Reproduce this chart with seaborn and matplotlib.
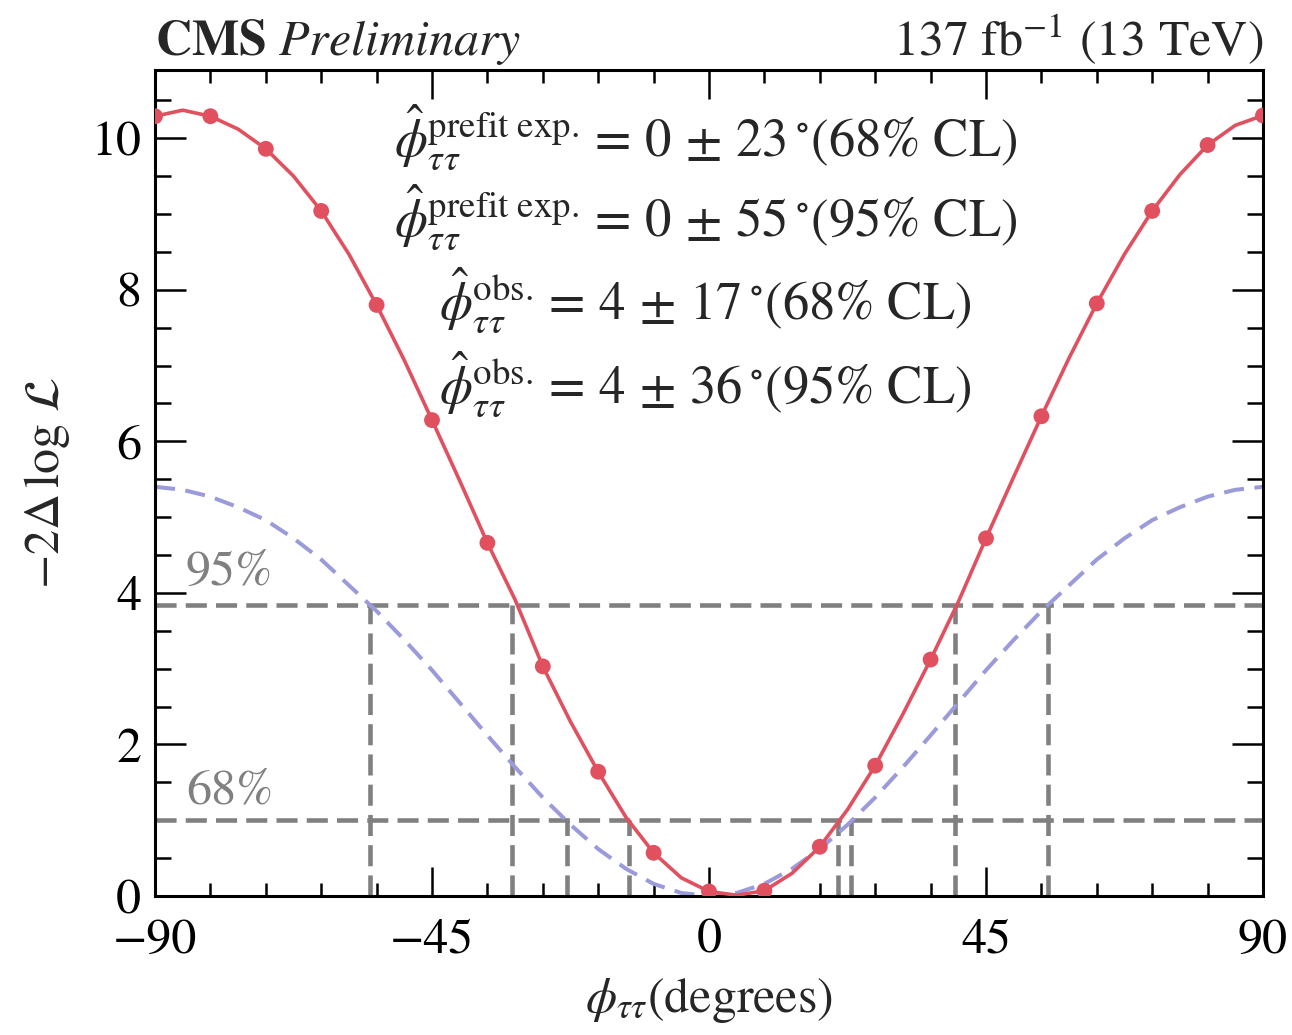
import numpy as np
import pandas as pd
import matplotlib
matplotlib.use("Agg")
import matplotlib.pyplot as plt
from matplotlib.ticker import MultipleLocator
import seaborn as sns

# Observed scan points (degrees, -2 Delta log L)
obs_phi = [-90, -81, -72, -63, -54, -45, -36, -27, -18, -9, 0,
           9, 18, 27, 36, 45, 54, 63, 72, 81, 90]
obs_nll = [10.29, 10.29, 9.86, 9.04, 7.80, 6.28, 4.66, 3.03, 1.64, 0.57, 0.06,
           0.07, 0.65, 1.72, 3.12, 4.72, 6.33, 7.82, 9.04, 9.91, 10.30]

# Observed curve, sampled every 4.5 degrees
curve_phi = [-90, -85.5, -81, -76.5, -72, -67.5, -63, -58.5, -54, -49.5, -45,
             -40.5, -36, -31.5, -27, -22.5, -18, -13.5, -9, -4.5, 0,
             4.5, 9, 13.5, 18, 22.5, 27, 31.5, 36, 40.5, 45,
             49.5, 54, 58.5, 63, 67.5, 72, 76.5, 81, 85.5, 90]
curve_nll = [10.29, 10.37, 10.29, 10.12, 9.86, 9.50, 9.04, 8.47, 7.80, 7.07, 6.28,
             5.48, 4.66, 3.91, 3.03, 2.30, 1.64, 1.04, 0.57, 0.24, 0.06,
             0.01, 0.07, 0.30, 0.65, 1.14, 1.72, 2.40, 3.12, 3.88, 4.72,
             5.53, 6.33, 7.10, 7.82, 8.47, 9.04, 9.52, 9.91, 10.17, 10.30]

# Prefit expected curve
exp_phi = [-90, -85.5, -81, -76.5, -72, -67.5, -63, -58.5, -54, -49.5, -45,
           -40.5, -36, -31.5, -27, -22.5, -18, -13.5, -9, -4.5, 0,
           4.5, 9, 13.5, 18, 22.5, 27, 31.5, 36, 40.5, 45,
           49.5, 54, 58.5, 63, 67.5, 72, 76.5, 81, 85.5, 90]
exp_nll = [5.40, 5.36, 5.27, 5.13, 4.96, 4.72, 4.44, 4.10, 3.76, 3.38, 2.98,
           2.55, 2.12, 1.70, 1.30, 0.94, 0.62, 0.36, 0.16, 0.04, 0.00,
           0.04, 0.16, 0.36, 0.62, 0.94, 1.30, 1.70, 2.12, 2.55, 2.98,
           3.38, 3.76, 4.10, 4.44, 4.72, 4.96, 5.13, 5.27, 5.36, 5.40]

# Confidence-level thresholds and interval edges
cl_levels = [1.0, 3.84]
cl_labels = ["68%", "95%"]
edges_68 = [-23, -13, 21, 23]
edges_95 = [-55, -32, 40, 55]

results = [
    r"$\hat{\phi}^{\mathrm{prefit\ exp.}}_{\tau\tau} = \,0\,\pm\,23\,^{\circ}(68\%\ \mathrm{CL})$",
    r"$\hat{\phi}^{\mathrm{prefit\ exp.}}_{\tau\tau} = \,0\,\pm\,55\,^{\circ}(95\%\ \mathrm{CL})$",
    r"$\hat{\phi}^{\mathrm{obs.}}_{\tau\tau} = \,4\,\pm\,17\,^{\circ}(68\%\ \mathrm{CL})$",
    r"$\hat{\phi}^{\mathrm{obs.}}_{\tau\tau} = \,4\,\pm\,36\,^{\circ}(95\%\ \mathrm{CL})$",
]
result_y = [9.76, 8.70, 7.60, 6.50]

sns.set_theme(style="ticks")
plt.rcParams["font.family"] = ["STIXGeneral", "DejaVu Serif"]
plt.rcParams["mathtext.fontset"] = "stix"
plt.rcParams["axes.unicode_minus"] = True

RED = "#e0505f"
BLUE = "#9b9bdc"
GREY = "#808080"
FS = 36

fig = plt.figure(figsize=(12.92, 10.35), dpi=100)
ax = fig.add_axes([155 / 1292, 139 / 1035, 1108 / 1292, 826 / 1035])

# threshold lines
GLW = 3.3
GDASH = (4.6, 2.0)
for lvl in cl_levels:
    ax.axhline(lvl, color=GREY, lw=GLW, dashes=GDASH, zorder=1)
for e in edges_68:
    ax.plot([e, e], [0, cl_levels[0]], color=GREY, lw=GLW, dashes=GDASH, zorder=1)
for e in edges_95:
    ax.plot([e, e], [0, cl_levels[1]], color=GREY, lw=GLW, dashes=GDASH, zorder=1)

exp_df = pd.DataFrame({"phi": exp_phi, "nll": exp_nll})
sns.lineplot(data=exp_df, x="phi", y="nll", ax=ax, color=BLUE, lw=2.9,
             dashes=False, zorder=2)
ax.lines[-1].set_dashes((5.0, 2.6))

curve_df = pd.DataFrame({"phi": curve_phi, "nll": curve_nll})
sns.lineplot(data=curve_df, x="phi", y="nll", ax=ax, color=RED, lw=2.6, zorder=3)

pts_df = pd.DataFrame({"phi": obs_phi, "nll": obs_nll})
sns.scatterplot(data=pts_df, x="phi", y="nll", ax=ax, color=RED, s=130,
                edgecolor="none", zorder=4, clip_on=True)

ax.set_xlim(-90, 90)
ax.set_ylim(0, 10.9)
ax.xaxis.set_major_locator(MultipleLocator(45))
ax.xaxis.set_minor_locator(MultipleLocator(9))
ax.yaxis.set_major_locator(MultipleLocator(2))
ax.yaxis.set_minor_locator(MultipleLocator(0.5))
ax.tick_params(which="both", direction="in", top=True, right=True, width=1.8,
               labelsize=FS, colors="black")
ax.tick_params(axis="x", which="major", length=21, pad=16)
ax.tick_params(axis="x", which="minor", length=9.5)
ax.tick_params(axis="y", which="major", length=22, pad=10)
ax.tick_params(axis="y", which="minor", length=11.5)
for sp in ax.spines.values():
    sp.set_linewidth(2.2)
    sp.set_color("black")

ax.set_xlabel(r"$\phi_{\tau\tau}(\mathrm{degrees})$", fontsize=FS, labelpad=9)
ax.set_ylabel(r"$-2\Delta\,\log\,\mathcal{L}$", fontsize=FS, labelpad=14)

for txt, yv in zip(results, result_y):
    ax.text(0.497, yv, txt, transform=ax.get_yaxis_transform(), ha="center",
            va="baseline", fontsize=38)

for lvl, lab in zip(cl_levels, cl_labels):
    ax.text(-85, lvl + 0.22 if lvl < 2 else lvl + 0.27, lab, color=GREY,
            fontsize=FS, ha="left", va="baseline")

ax.text(0.0, 1.004, r"$\mathbf{CMS}\ \mathit{Preliminary}$", transform=ax.transAxes,
        ha="left", va="bottom", fontsize=FS)
ax.text(1.0, 1.004, r"137 fb$^{-1}$ (13 TeV)", transform=ax.transAxes,
        ha="right", va="bottom", fontsize=FS)

fig.savefig("out.png", dpi=100, facecolor="white")
